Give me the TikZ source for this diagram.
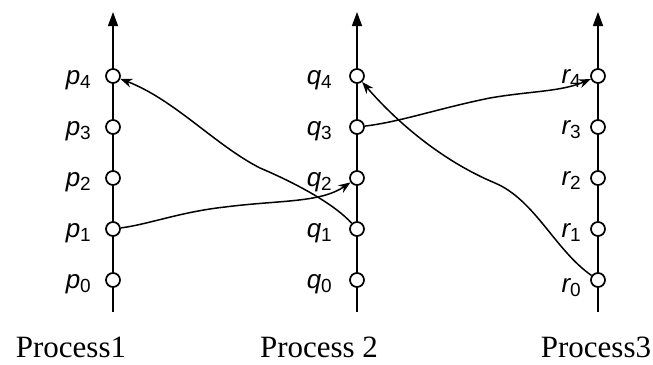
\documentclass[tikz,border=0pt]{standalone}
\usepackage{fontspec}
\setmainfont{Liberation Serif}
\newfontfamily\lblfont{Liberation Sans}
\usetikzlibrary{arrows.meta}
\newcommand\evlab[2]{#1\raisebox{-0.3ex}{\fontsize{19}{22}\selectfont\upshape #2}}
\begin{document}
\begin{tikzpicture}[x=1pt,y=-1pt,
  ev/.style={circle,draw,fill=white,line width=1.7pt,minimum size=14pt,inner sep=0pt},
  axisline/.style={line width=1.5pt,-{Triangle[length=14pt,width=10pt]}},
  msg/.style={line width=1.5pt,-{Stealth[length=12pt,width=9pt]}},
  lbl/.style={font=\lblfont\fontsize{26}{30}\selectfont\itshape,anchor=base east,inner sep=0pt},
  proc/.style={font=\fontsize{31}{36}\selectfont,anchor=base,inner sep=0pt}]
\useasboundingbox (0,0) rectangle (653,364);

% axes
\coordinate (pb) at (113,312); \coordinate (pt) at (113,12);
\coordinate (qb) at (357,312); \coordinate (qt) at (357,12);
\coordinate (rb) at (598,312); \coordinate (rt) at (598,12);
\draw[axisline] (pb) -- (pt);
\draw[axisline] (qb) -- (qt);
\draw[axisline] (rb) -- (rt);

% events
\foreach \i/\y in {0/280,1/229,2/178,3/127,4/76}{
  \node[ev] (p\i) at (113,\y) {};
  \node[ev] (q\i) at (357,\y) {};
  \node[ev] (r\i) at (598,\y) {};
}

% labels
\foreach \i/\y in {0/288,1/237,2/186,3/135,4/84}{
  \node[lbl] (pl\i) at (91,\y) {\evlab{p}{\i}};
  \node[lbl] (ql\i) at (332,\y) {\evlab{q}{\i}};
}
\node[lbl] (rl4) at (581,83) {\evlab{r}{4}};
\node[lbl] (rl3) at (581,134) {\evlab{r}{3}};
\node[lbl] (rl2) at (581,185) {\evlab{r}{2}};
\node[lbl] (rl1) at (581,237) {\evlab{r}{1}};
\node[lbl] (rl0) at (581,292) {\evlab{r}{0}};

% messages
\draw[msg] (p1) .. controls (150,224) and (180,212) .. (225,207)
                .. controls (280,200) and (320,203) .. (q2);
\draw[msg] (q1) .. controls (335,205) and (300,185) .. (260,168)
                .. controls (215,145) and (175,100) .. (p4);
\draw[msg] (r0) .. controls (555,250) and (535,200) .. (495,183)
                .. controls (440,160) and (395,120) .. (q4);
\draw[msg] (q3) .. controls (400,122) and (440,108) .. (490,98)
                .. controls (530,91) and (560,92) .. (r4);

% process names
\node[proc] (n1) at (71,357) {Process1};
\node[proc] (n2) at (319,357) {Process 2};
\node[proc] (n3) at (596,357) {Process3};
\end{tikzpicture}
\end{document}
